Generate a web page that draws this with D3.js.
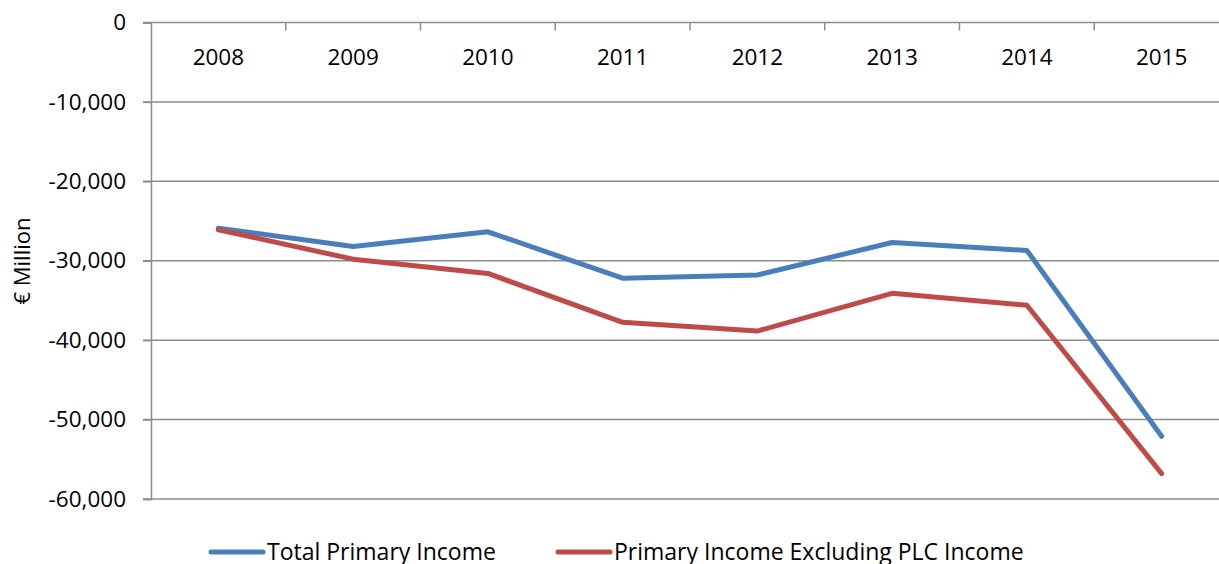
<!DOCTYPE html>
<html>
<head>
<meta charset="utf-8">
<script src="https://cdn.jsdelivr.net/npm/d3@7"></script>
<style>
    body { margin: 0; background: #fff; }
    svg { display: block; font-family: "Open Sans", sans-serif; }
</style>
</head>
<body>
<div id="chart"></div>
<script>
var years = ["2008", "2009", "2010", "2011", "2012", "2013", "2014", "2015"];
var totalPrimary = [-25900, -28200, -26350, -32200, -31800, -27700, -28700, -52100];
var excludingPLC = [-26100, -29800, -31600, -37750, -38850, -34100, -35600, -56800];
var yTicks = [0, -10000, -20000, -30000, -40000, -50000, -60000];
var seriesNames = ["Total Primary Income", "Primary Income Excluding PLC Income"];
var seriesColors = ["#4a7ebb", "#be4b48"];

window.onload = () => {
    var width = 1219;
    var height = 564;

    var svg = d3.select("#chart")
        .append("svg")
        .attr("width", width)
        .attr("height", height);

    var left = 151, right = 1229, top = 22.5, bottom = 499;

    var x = d3.scaleBand().domain(years).range([left, right]);
    var y = d3.scaleLinear().domain([-60000, 0]).range([bottom, top]);

    // gridlines
    svg.selectAll(".grid")
        .data(yTicks.filter(d => d !== 0))
        .enter()
        .append("line")
        .attr("x1", left - 8)
        .attr("x2", width)
        .attr("y1", d => y(d))
        .attr("y2", d => y(d))
        .attr("stroke", "#8c8c8c")
        .attr("stroke-width", 1.5);

    // y axis
    var yAxis = d3.axisLeft(y)
        .tickValues(yTicks)
        .tickSize(8)
        .tickPadding(17)
        .tickFormat(d3.format(","));
    var gy = svg.append("g")
        .attr("transform", `translate(${left},0)`)
        .call(yAxis);
    gy.select(".domain").attr("stroke", "#8c8c8c").attr("stroke-width", 1.5);
    gy.selectAll(".tick line").attr("stroke", "#8c8c8c").attr("stroke-width", 1.5);
    gy.selectAll(".tick text")
        .attr("font-size", 22.5)
        .attr("fill", "#000")
        .attr("font-family", "Open Sans, sans-serif")
        .text(d => d3.format(",")(d).replace("−", "-"));

    // x axis at top (value 0), ticks point down into plot
    var gx = svg.append("g")
        .attr("transform", `translate(0,${y(0)})`);
    gx.append("line")
        .attr("x1", left - 8).attr("x2", width)
        .attr("stroke", "#8c8c8c").attr("stroke-width", 1.5);
    gx.selectAll(".xtick")
        .data(years.slice(1))
        .enter()
        .append("line")
        .attr("x1", d => x(d)).attr("x2", d => x(d))
        .attr("y1", 0).attr("y2", 8)
        .attr("stroke", "#8c8c8c").attr("stroke-width", 1.5);
    gx.selectAll(".xlabel")
        .data(years)
        .enter()
        .append("text")
        .attr("x", d => x(d) + x.bandwidth() / 2)
        .attr("y", 42)
        .attr("text-anchor", "middle")
        .attr("font-size", 22.5)
        .text(d => d);

    // lines
    var line = d3.line()
        .x((d, i) => x(years[i]) + x.bandwidth() / 2)
        .y(d => y(d));

    [totalPrimary, excludingPLC].forEach((s, i) => {
        svg.append("path")
            .datum(s)
            .attr("d", line)
            .attr("fill", "none")
            .attr("stroke", seriesColors[i])
            .attr("stroke-width", 5)
            .attr("stroke-linejoin", "round")
            .attr("stroke-linecap", "round");
    });

    // y label
    svg.append("text")
        .attr("transform", "translate(30,261) rotate(-90)")
        .attr("text-anchor", "middle")
        .attr("font-size", 22)
        .text("€ Million");

    // legend
    var legendX = [211, 558];
    seriesNames.forEach((name, i) => {
        var g = svg.append("g").attr("transform", `translate(${legendX[i]},552)`);
        g.append("line")
            .attr("x1", 0).attr("x2", 52)
            .attr("stroke", seriesColors[i])
            .attr("stroke-width", 5)
            .attr("stroke-linecap", "round");
        g.append("text")
            .attr("x", 56)
            .attr("y", 8)
            .attr("font-size", 23)
            .text(name);
    });
}
</script>
</body>
</html>
